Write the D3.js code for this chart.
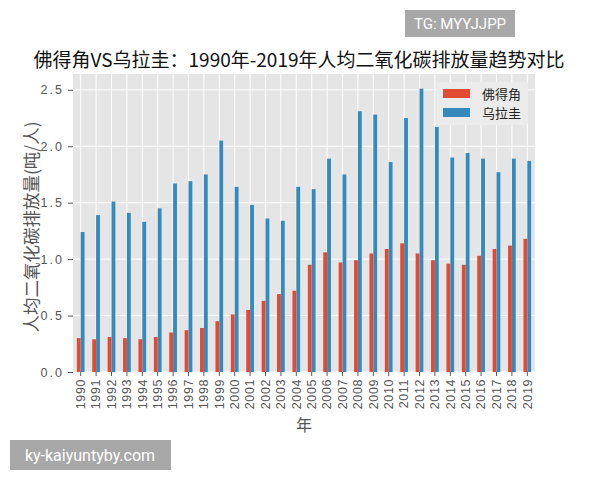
<!DOCTYPE html>
<html>
<head>
<meta charset="utf-8">
<script src="https://cdn.jsdelivr.net/npm/d3@7"></script>
<style>
  body { margin: 0; background: #fff; }
  svg { font-family: "Noto Sans CJK SC", "DejaVu Sans", sans-serif; }
</style>
</head>
<body>
<svg id="chart" width="600" height="480"></svg>
<script>
// data
var years = d3.range(1990, 2020).map(String);
var capeVerde = [0.30, 0.29, 0.31, 0.30, 0.29, 0.31, 0.35, 0.37, 0.39, 0.45,
                 0.51, 0.55, 0.63, 0.69, 0.72, 0.95, 1.06, 0.97, 0.99, 1.05,
                 1.09, 1.14, 1.05, 0.99, 0.96, 0.95, 1.03, 1.09, 1.12, 1.18];
var uruguay = [1.24, 1.39, 1.51, 1.41, 1.33, 1.45, 1.67, 1.69, 1.75, 2.05,
               1.64, 1.48, 1.36, 1.34, 1.64, 1.62, 1.89, 1.75, 2.31, 2.28,
               1.86, 2.25, 2.51, 2.17, 1.90, 1.94, 1.89, 1.77, 1.89, 1.87];
var seriesNames = ["佛得角", "乌拉圭"];
var colors = ["#E24A33", "#348ABD"];
var yTicks = [0, 0.5, 1.0, 1.5, 2.0, 2.5];

var svg = d3.select("#chart");
var margin = {left: 73, right: 65, top: 74, bottom: 108};
var width = 600 - margin.left - margin.right;
var height = 480 - margin.top - margin.bottom;

var g = svg.append("g").attr("transform", "translate(" + margin.left + "," + margin.top + ")");

var x = d3.scaleBand().domain(years).range([0, width]);
var y = d3.scaleLinear().domain([0, 2.64]).range([height, 0]);

g.append("rect").attr("width", width).attr("height", height).attr("fill", "#E5E5E5");

// grid
g.selectAll(".hgrid").data(yTicks).enter().append("line")
  .attr("x1", 0).attr("x2", width)
  .attr("y1", d => y(d)).attr("y2", d => y(d))
  .attr("stroke", "#fff").attr("stroke-width", 1);
g.selectAll(".vgrid").data(years).enter().append("line")
  .attr("x1", d => x(d) + x.bandwidth() / 2).attr("x2", d => x(d) + x.bandwidth() / 2)
  .attr("y1", 0).attr("y2", height)
  .attr("stroke", "#fff").attr("stroke-width", 1);

// bars (pandas style: each bar a quarter of the slot)
var bw = x.bandwidth() * 0.25;
[capeVerde, uruguay].forEach(function(vals, si) {
  g.append("g").selectAll("rect").data(vals).enter().append("rect")
    .attr("x", (d, i) => x(years[i]) + x.bandwidth() / 2 - bw + si * bw)
    .attr("width", bw)
    .attr("y", d => y(d))
    .attr("height", d => height - y(d))
    .attr("fill", colors[si]);
});

// axes
var yAxis = d3.axisLeft(y).tickValues(yTicks).tickFormat(d3.format(".1f")).tickSize(5).tickPadding(4);
var ya = g.append("g").call(yAxis);
ya.select(".domain").remove();
ya.selectAll("line").attr("stroke", "#555");
ya.selectAll("text").attr("fill", "#555").style("font-size", "12.5px").style("letter-spacing", "2px");

var xAxis = d3.axisBottom(x).tickSize(4).tickPadding(3);
var xa = g.append("g").attr("transform", "translate(0," + height + ")").call(xAxis);
xa.select(".domain").remove();
xa.selectAll("line").attr("stroke", "#555");
xa.selectAll("text").attr("fill", "#555").style("font-size", "12.5px").style("letter-spacing", "0.6px")
  .attr("transform", "rotate(-90)")
  .attr("text-anchor", "end")
  .attr("x", -7).attr("y", 0).attr("dy", "0.35em");

// axis labels
svg.append("text").attr("x", margin.left + width / 2).attr("y", 431)
  .attr("text-anchor", "middle").attr("fill", "#555").style("font-size", "16px").text("年");
svg.append("text").attr("transform", "translate(38,227) rotate(-90)")
  .attr("text-anchor", "middle").attr("fill", "#555").style("font-size", "17.5px")
  .text("人均二氧化碳排放量(吨/人)");

// title
svg.append("text").attr("x", 299).attr("y", 67).attr("text-anchor", "middle")
  .attr("fill", "#111").style("font-size", "19px").text("佛得角VS乌拉圭：1990年-2019年人均二氧化碳排放量趋势对比");

// legend
var lg = svg.append("g").attr("transform", "translate(437,82)");
lg.append("rect").attr("width", 91).attr("height", 43).attr("fill", "#EBEBEB").attr("rx", 2);
seriesNames.forEach(function(name, i) {
  lg.append("rect").attr("x", 6).attr("y", 7 + i * 19).attr("width", 27).attr("height", 9).attr("fill", colors[i]);
  lg.append("text").attr("x", 45).attr("y", 16.5 + i * 19).attr("fill", "#222")
    .style("font-size", "13px").text(name);
});

// watermarks
svg.append("rect").attr("x", 405).attr("y", 10).attr("width", 110).attr("height", 27).attr("fill", "#A8A8A8");
svg.append("text").attr("x", 460).attr("y", 29).attr("text-anchor", "middle").attr("fill", "#fff")
  .style("font-family", "Roboto, sans-serif").style("font-size", "15px").text("TG: MYYJJPP");
svg.append("rect").attr("x", 10).attr("y", 440).attr("width", 161).attr("height", 30).attr("fill", "#A8A8A8");
svg.append("text").attr("x", 90).attr("y", 460.5).attr("text-anchor", "middle").attr("fill", "#fff")
  .style("font-family", "Roboto, sans-serif").style("font-size", "16px").text("ky-kaiyuntyby.com");
</script>
</body>
</html>
